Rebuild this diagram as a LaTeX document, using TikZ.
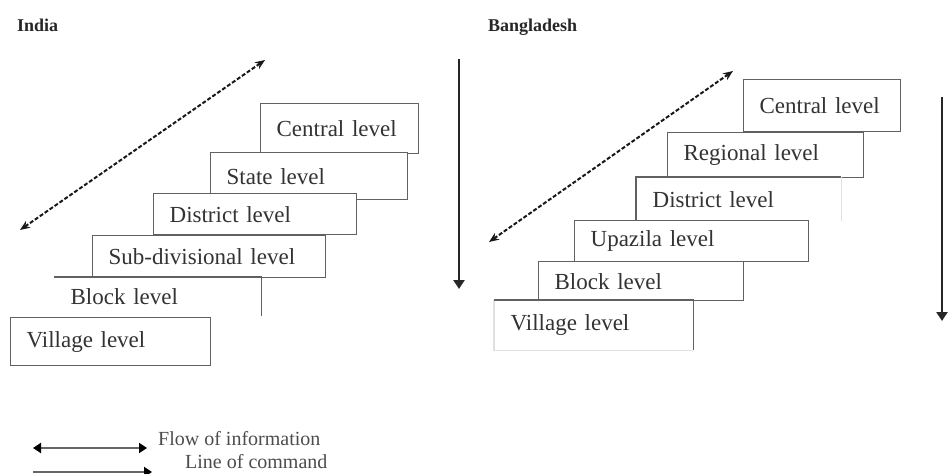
\documentclass[tikz,border=0pt]{standalone}
\usepackage{fontspec}
\setmainfont{Liberation Serif}
\usetikzlibrary{arrows.meta}
\begin{document}
\begin{tikzpicture}[x=1pt, y=-1pt,
  lvl/.style={draw=black!62, line width=1.3pt, fill=white, anchor=north west,
    inner xsep=16pt, inner ysep=0pt, align=left, text=black!80,
    font=\fontsize{23}{26}\selectfont},
  lvlopen/.style={lvl, draw=none},
  edge/.style={draw=black!62, line width=1.3pt},
  faintedge/.style={draw=black!12, line width=1.3pt},
  title/.style={anchor=base west, inner sep=0pt, text=black!85, font=\fontsize{18}{20}\selectfont\bfseries},
  legtext/.style={anchor=base west, inner sep=0pt, text=black!70, font=\fontsize{20}{22}\selectfont},
  infoarrow/.style={line width=2pt, black!90, dash pattern=on 4pt off 2pt,
    {Stealth[length=10pt,width=8pt]}-{Stealth[length=10pt,width=8pt]}},
  cmdarrow/.style={line width=2.4pt, black!85, -{Triangle[length=9pt,width=11pt]}},
  legboth/.style={line width=2.4pt, black!60,
    {Triangle[length=8pt,width=10pt,black]}-{Triangle[length=8pt,width=10pt,black]}},
  legone/.style={line width=2.4pt, black!60, -{Triangle[length=8pt,width=10pt,black]}}]

\useasboundingbox (0,0) rectangle (951,474);

% ---------------- India ----------------
\node[title] (tind) at (17,31) {India};

\node[lvl, text width=126pt, minimum height=50pt] (ic) at (260,103) {Central level};
\node[lvl, text width=165pt, minimum height=47pt] (is) at (210,152) {State level};
\node[lvl, text width=171pt, minimum height=41pt] (id) at (153,193) {District level};
\node[lvl, text width=201pt, minimum height=42pt] (isd) at (92,235) {Sub-divisional level};
\node[lvlopen, text width=174pt, minimum height=38pt] (ib) at (54,277) {Block level};
\draw[edge] (ib.north west) -- (ib.north east) -- (ib.south east);
\node[lvl, text width=168pt, minimum height=48pt] (iv) at (10,317) {Village level};

\coordinate (iinfoA) at (265,60);
\coordinate (iinfoB) at (20,230);
\draw[infoarrow] (iinfoB) -- (iinfoA);

\coordinate (icmdA) at (459,59);
\coordinate (icmdB) at (459,289);
\draw[cmdarrow] (icmdA) -- (icmdB);

% ---------------- Bangladesh ----------------
\node[title] (tbgd) at (488,31) {Bangladesh};

\node[lvl, text width=125pt, minimum height=52pt] (bc) at (743,79) {Central level};
\node[lvl, text width=164pt, minimum height=45pt] (br) at (667,132) {Regional level};
\node[lvlopen, text width=172pt, minimum height=43pt] (bd) at (636,177) {District level};
\draw[edge] (bd.south west) -- (bd.north west) -- (bd.north east);
\draw[faintedge] (bd.north east) -- (bd.south east);
\node[lvl, text width=202pt, minimum height=41pt] (bu) at (574,220) {Upazila level};
\node[lvl, text width=173pt, minimum height=39pt] (bb) at (538,261) {Block level};
\node[lvlopen, text width=166pt, minimum height=49pt] (bv) at (494,300) {Village level};
\draw[faintedge] (bv.north west) -- (bv.south west) -- (bv.south east);
\draw[edge] (bv.north west) -- (bv.north east) -- (bv.south east);

\coordinate (binfoA) at (733,71);
\coordinate (binfoB) at (489,242);
\draw[infoarrow] (binfoB) -- (binfoA);

\coordinate (bcmdA) at (942,97);
\coordinate (bcmdB) at (942,321);
\draw[cmdarrow] (bcmdA) -- (bcmdB);

% ---------------- Legend ----------------
\coordinate (lgA) at (33,448);
\coordinate (lgB) at (147,448);
\draw[legboth] (lgA) -- (lgB);
\node[legtext] (lgflow) at (158,445) {Flow of information};

\coordinate (lcA) at (33,472);
\coordinate (lcB) at (152,472);
\draw[legone] (lcA) -- (lcB);
\node[legtext] (lgcmd) at (185,468) {Line of command};
\end{tikzpicture}
\end{document}
